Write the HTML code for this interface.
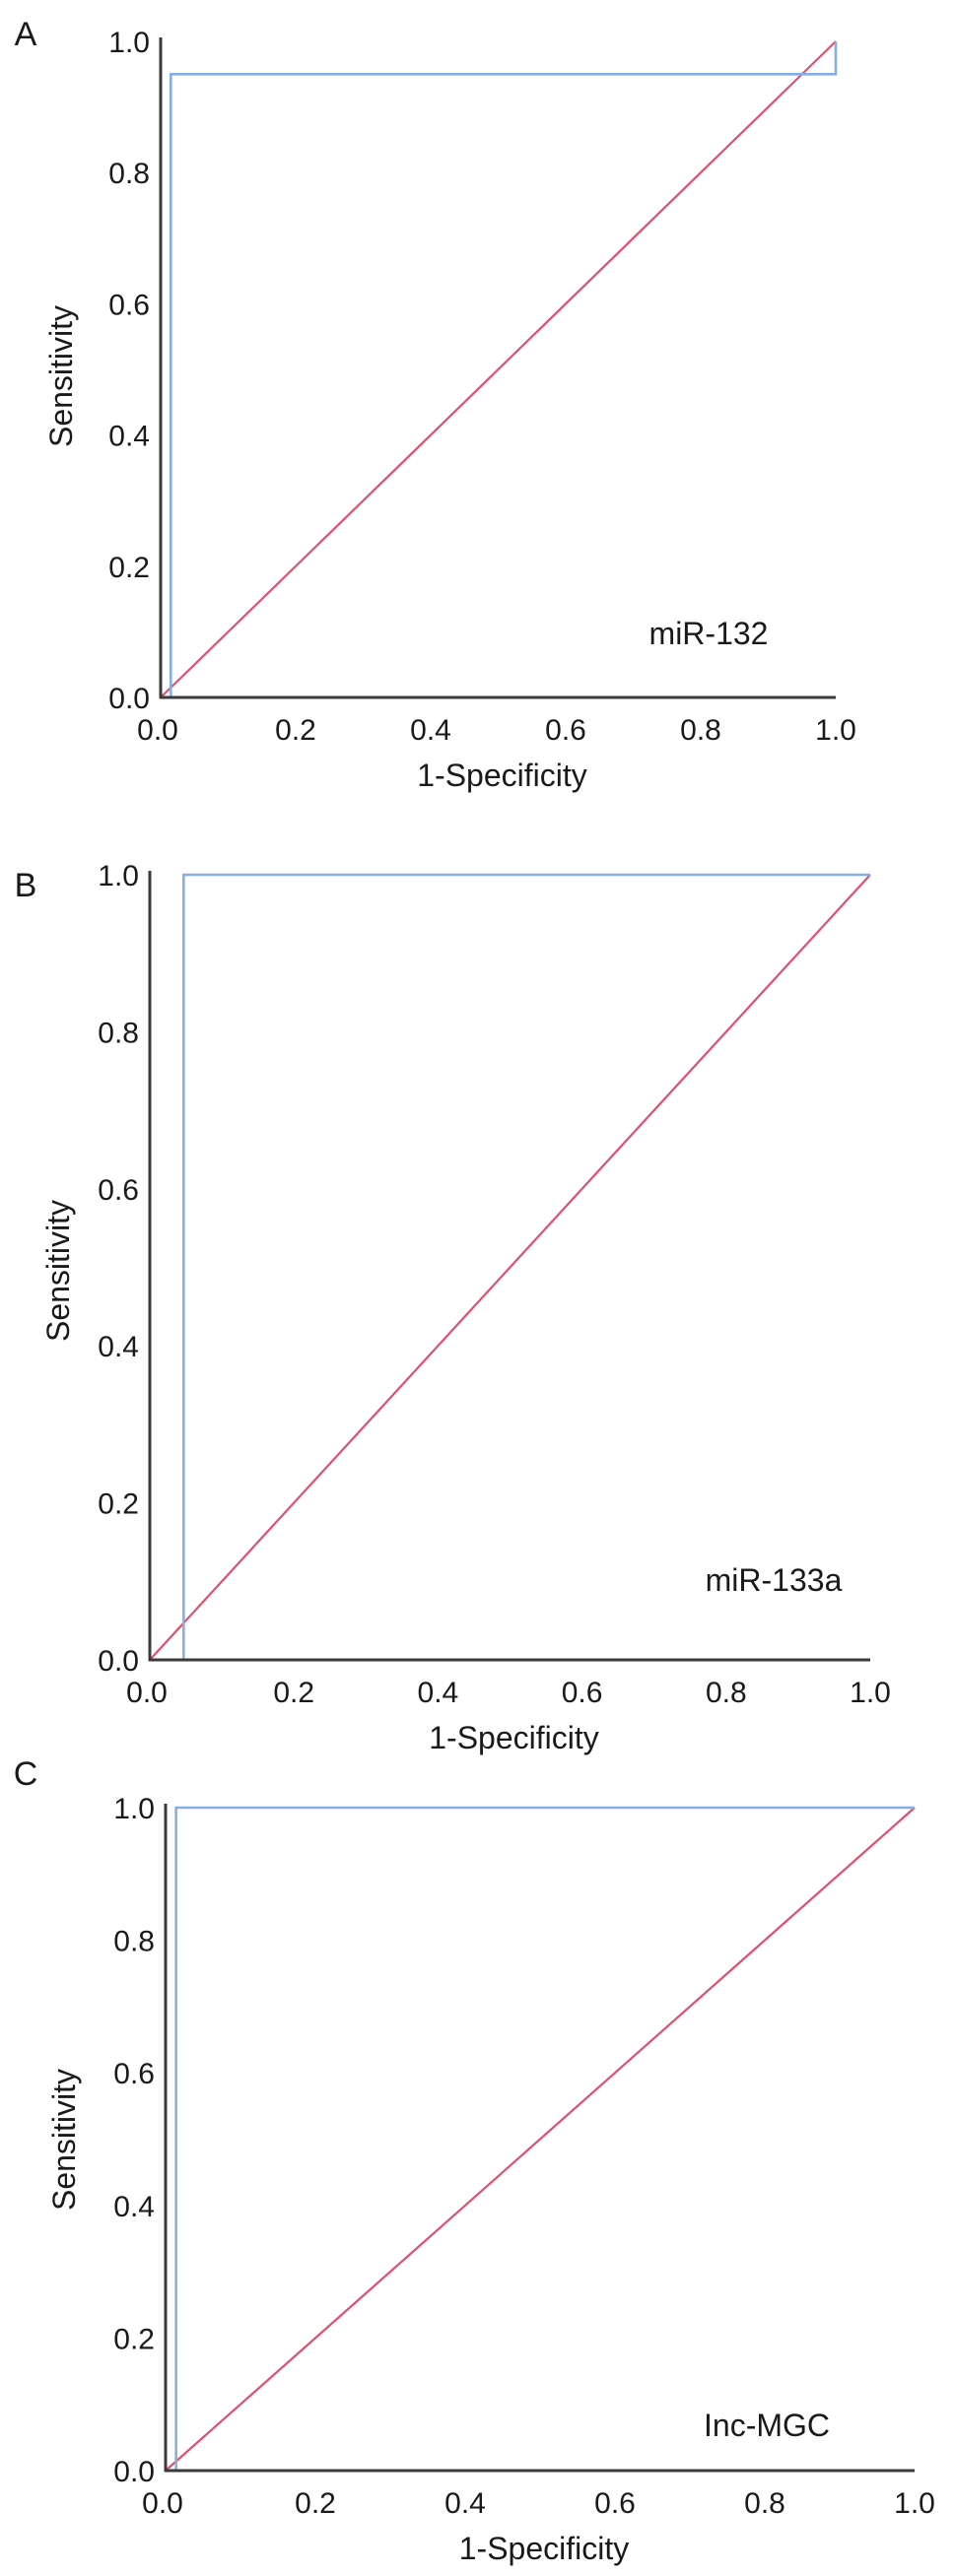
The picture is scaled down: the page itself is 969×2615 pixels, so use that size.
<!DOCTYPE html>
<html><head><meta charset="utf-8"><style>
html,body{margin:0;padding:0;background:#fff;}
svg{display:block;}
text{font-family:"Liberation Sans",Arial,sans-serif;fill:#1a1a1a;}
</style></head><body>
<svg id="fig" width="969" height="2615" viewBox="0 0 969 2615" xmlns="http://www.w3.org/2000/svg"></svg>
<script>
const tickValues = [0, 0.2, 0.4, 0.6, 0.8, 1.0];
const tickLabels = ["0.0", "0.2", "0.4", "0.6", "0.8", "1.0"];
const panelLetters = ["A", "B", "C"];
const markerNames = ["miR-132", "miR-133a", "Inc-MGC"];
const rocFprA = [0, 0.015, 0.015, 1, 1];
const rocSensA = [0, 0, 0.95, 0.95, 1];
const rocFprB = [0, 0.047, 0.047, 1];
const rocSensB = [0, 0, 1, 1];
const rocFprC = [0, 0.014, 0.014, 1];
const rocSensC = [0, 0, 1, 1];
const refFpr = [0, 1];
const refSens = [0, 1];

const layouts = [
  {x0:163, x1:848, y0:708, y1:42, lx:26, ly:46, labX:719, labY:643, sy:382, sx:62},
  {x0:152, x1:883, y0:1685, y1:888, lx:26, ly:910, labX:785, labY:1604, sy:1290, sx:59},
  {x0:168, x1:928, y0:2508, y1:1835, lx:26, ly:1812, labX:778, labY:2462, sy:2172, sx:65}
];
const rocF = [rocFprA, rocFprB, rocFprC];
const rocS = [rocSensA, rocSensB, rocSensC];
const NS = "http://www.w3.org/2000/svg";
const svg = document.getElementById("fig");
function mk(tag, attrs, parent){const e=document.createElementNS(NS,tag);for(const k in attrs)e.setAttribute(k,attrs[k]);parent.appendChild(e);return e;}

layouts.forEach((L, i) => {
  const g = mk("g", {}, svg);
  
  
  const xs = v => L.x0 + v * (L.x1 - L.x0);
  const ys = v => L.y0 - v * (L.y0 - L.y1);

  const letter = mk("text", {x:L.lx, y:L.ly, "font-size":34, "text-anchor":"middle"}, g);
  letter.textContent = panelLetters[i];
  
  

  const ref = mk("polyline", {points: refFpr.map((f,k)=>xs(f)+","+ys(refSens[k])).join(" "), fill:"none", stroke:"#e0506e", "stroke-width":2.2}, g);
  
  

  const roc = mk("polyline", {points: rocF[i].map((f,k)=>xs(f)+","+ys(rocS[i][k])).join(" "), fill:"none", stroke:"#86aee6", "stroke-width":2.6}, g);
  
  

  const ya = mk("line", {x1:L.x0, y1:L.y0+1, x2:L.x0, y2:L.y1-4, stroke:"#3a3a3a", "stroke-width":3}, g);
  
  
  const xa = mk("line", {x1:L.x0-1, y1:L.y0, x2:L.x1, y2:L.y0, stroke:"#3a3a3a", "stroke-width":3}, g);
  
  

  tickValues.forEach((v, k) => {
    const ty = mk("text", {x:L.x0-11, y:ys(v)+11, "font-size":30, "text-anchor":"end"}, g);
    ty.textContent = tickLabels[k];
    
    
    const tx = mk("text", {x:xs(v)+(k===0?-3:0), y:L.y0+43, "font-size":30, "text-anchor":"middle"}, g);
    tx.textContent = tickLabels[k];
    
    
  });

  const xt = mk("text", {x:(L.x0+L.x1)/2+4, y:L.y0+90, "font-size":32, "text-anchor":"middle"}, g);
  xt.textContent = "1-Specificity";
  
  

  const yt = mk("text", {x:0, y:0, "font-size":32, "text-anchor":"middle", transform:"translate("+(L.sx+11)+","+L.sy+") rotate(-90)"}, g);
  yt.textContent = "Sensitivity";
  
  

  const lab = mk("text", {x:L.labX, y:L.labY+11, "font-size":32, "text-anchor":"middle"}, g);
  lab.textContent = markerNames[i];
  
  
});
</script>
</body></html>
